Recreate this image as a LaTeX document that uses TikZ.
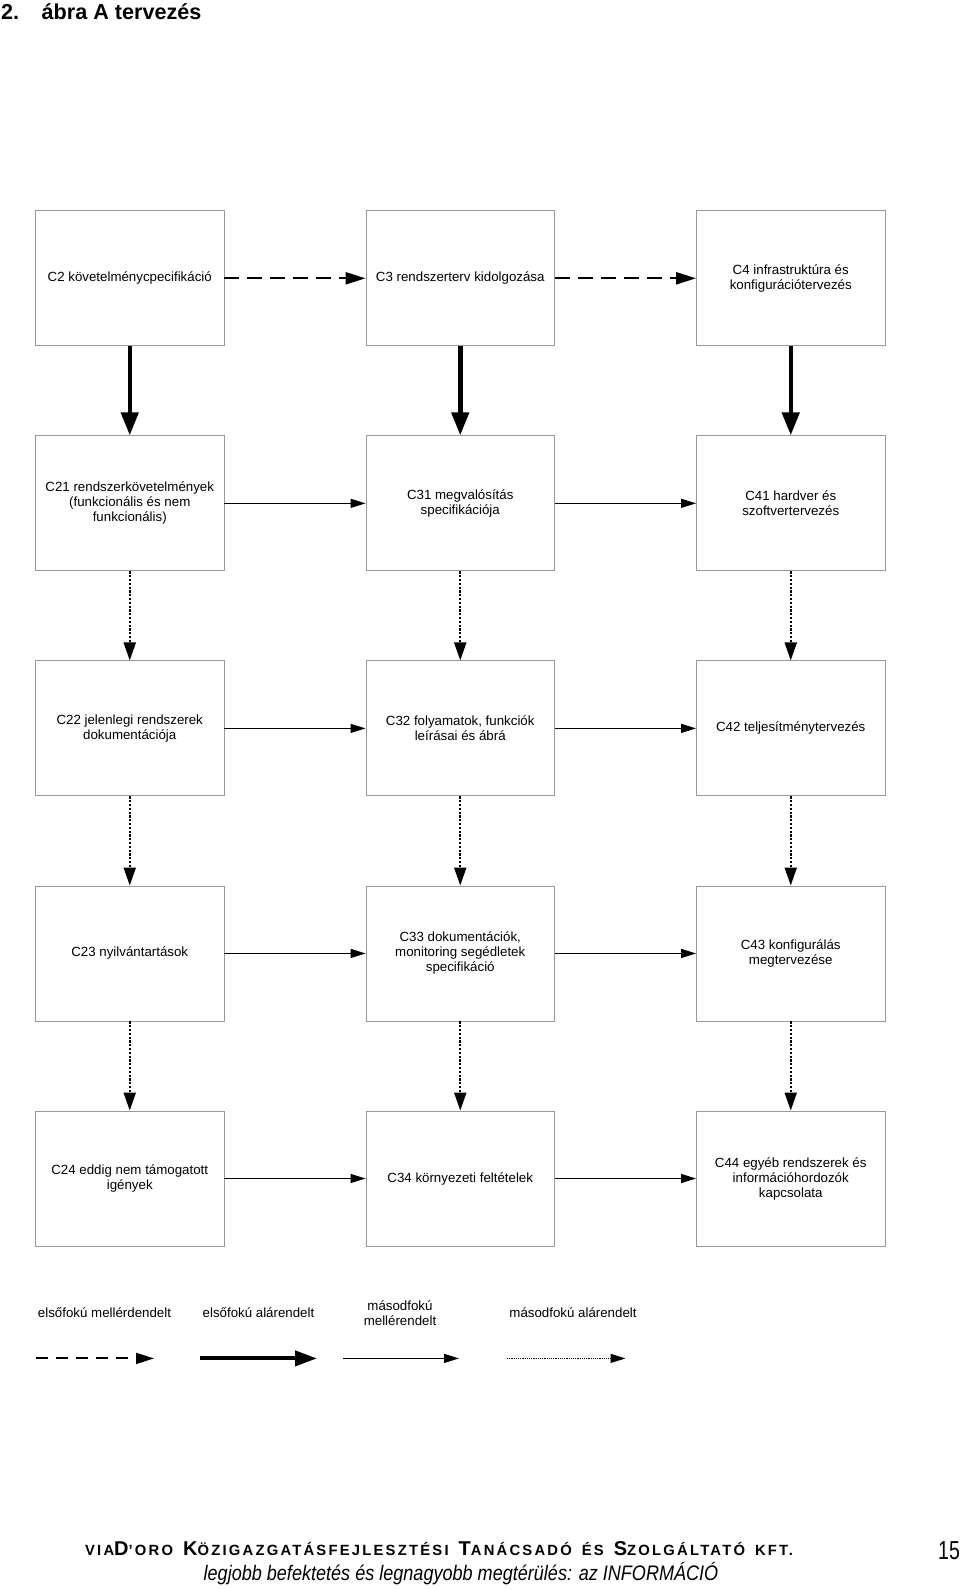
\documentclass[tikz,border=0pt]{standalone}
\usepackage{fontspec}
\setmainfont{Liberation Sans}
\newfontfamily\footfont[LetterSpace=15]{Liberation Sans}
\usetikzlibrary{arrows.meta}
\newcommand\myBigC[1]{{\fontsize{20}{20}\selectfont #1}}
\newcommand\mySmC[1]{{\fontsize{14.8}{20}\selectfont #1}}
\newcommand\myGap{\hspace{10pt}}
\begin{document}
\begin{tikzpicture}[x=1pt,y=-1pt,
  box/.style={draw=black!40, line width=0.9pt, minimum width=188.5pt, minimum height=135pt, align=center, inner sep=2pt, font=\fontsize{13.3}{15}\selectfont},
  firstpeer/.style={line width=2.2pt, dash pattern=on 15pt off 8pt, -{Triangle[length=20pt,width=12pt]}},
  firstsub/.style={line width=4.5pt, -{Triangle[length=23pt,width=17pt]}},
  secpeer/.style={line width=1.2pt, -{Triangle[length=15pt,width=9pt]}},
  secsub/.style={line width=2pt, dash pattern=on 2.2pt off 1.6pt, -{Triangle[length=18pt,width=12pt]}},
  lbl/.style={font=\fontsize{13.3}{15.5}\selectfont, align=center, inner sep=0pt}
]
\useasboundingbox (0,0) rectangle (960,1590);

% title
\node[anchor=base west, inner sep=0pt, font=\fontsize{21.6}{22}\selectfont\bfseries] (title) at (1,19.5) {2.\hspace{22.5pt}ábra A tervezés};

% row 1
\node[box] (C2) at (129.75,278.3) {C2 követelménycpecifikáció};
\node[box] (C3) at (460.25,278.3) {C3 rendszerterv kidolgozása};
\node[box] (C4) at (790.75,278.3) {C4 infrastruktúra és\\konfigurációtervezés};
% row 2
\node[box] (C21) at (129.75,503.35) {C21 rendszerkövetelmények\\(funkcionális és nem\\funkcionális)};
\node[box] (C31) at (460.25,503.35) {C31 megvalósítás\\specifikációja};
\node[box] (C41) at (790.75,503.35) {C41 hardver és\\szoftvertervezés};
% row 3
\node[box] (C22) at (129.75,728.4) {C22 jelenlegi rendszerek\\dokumentációja};
\node[box] (C32) at (460.25,728.4) {C32 folyamatok, funkciók\\leírásai és ábrá};
\node[box] (C42) at (790.75,728.4) {C42 teljesítménytervezés};
% row 4
\node[box] (C23) at (129.75,953.45) {C23 nyilvántartások};
\node[box] (C33) at (460.25,953.45) {C33 dokumentációk,\\monitoring segédletek\\specifikáció};
\node[box] (C43) at (790.75,953.45) {C43 konfigurálás\\megtervezése};
% row 5
\node[box] (C24) at (129.75,1178.5) {C24 eddig nem támogatott\\igények};
\node[box] (C34) at (460.25,1178.5) {C34 környezeti feltételek};
\node[box] (C44) at (790.75,1178.5) {C44 egyéb rendszerek és\\információhordozók\\kapcsolata};

% horizontal connectors
\draw[firstpeer] (C2) -- (C3);
\draw[firstpeer] (C3) -- (C4);
\foreach \a/\b in {C21/C31,C31/C41,C22/C32,C32/C42,C23/C33,C33/C43,C24/C34,C34/C44}
  \draw[secpeer] (\a) -- (\b);

% vertical connectors
\foreach \a/\b in {C2/C21,C3/C31,C4/C41}
  \draw[firstsub] (\a) -- (\b);
\foreach \a/\b in {C21/C22,C22/C23,C23/C24,C31/C32,C32/C33,C33/C34,C41/C42,C42/C43,C43/C44}
  \draw[secsub] (\a) -- (\b);

% legend
\node[lbl] (L1) at (104.5,1312.7) {elsőfokú mellérdendelt};
\node[lbl] (L2) at (258.5,1312.7) {elsőfokú alárendelt};
\node[lbl] (L3) at (400,1313.3) {másodfokú\\mellérendelt};
\node[lbl] (L4) at (573,1312.7) {másodfokú alárendelt};
\coordinate (a1) at (35.5,1358.4); \coordinate (b1) at (154,1358.4);
\coordinate (a2) at (200,1358.4);  \coordinate (b2) at (317,1358.4);
\coordinate (a3) at (342.6,1358.4); \coordinate (b3) at (459,1358.4);
\coordinate (a4) at (507,1358.4);  \coordinate (b4) at (625.5,1358.4);
\draw[line width=2pt, dash pattern=on 12pt off 8pt, -{Triangle[length=18pt,width=11pt]}] (a1) -- (b1);
\draw[line width=4pt, -{Triangle[length=22pt,width=15pt]}] (a2) -- (b2);
\draw[line width=1.2pt, -{Triangle[length=15pt,width=9pt]}] (a3) -- (b3);
\draw[line width=1pt, dash pattern=on 1.2pt off 1pt, -{Triangle[length=15pt,width=9pt]}] (a4) -- (b4);

% footer
\node[inner sep=0pt] (F1) at (439,1549) {\footfont\bfseries \mySmC{VIA}\myBigC{D}\mySmC{’ORO}\myGap\myBigC{K}\mySmC{ÖZIGAZGATÁSFEJLESZTÉSI}\myGap\myBigC{T}\mySmC{ANÁCSADÓ}\myGap\mySmC{ÉS}\myGap\myBigC{S}\mySmC{ZOLGÁLTATÓ}\myGap\mySmC{KFT.}};
\node[inner sep=0pt] (F2) at (461,1574) {\scalebox{0.86}[1]{\fontsize{21}{21}\selectfont\itshape legjobb befektetés és legnagyobb megtérülés: az INFORMÁCIÓ}};
\node[inner sep=0pt] (P) at (949,1551) {\scalebox{0.75}[1]{\fontsize{26}{26}\selectfont 15}};
\end{tikzpicture}
\end{document}
